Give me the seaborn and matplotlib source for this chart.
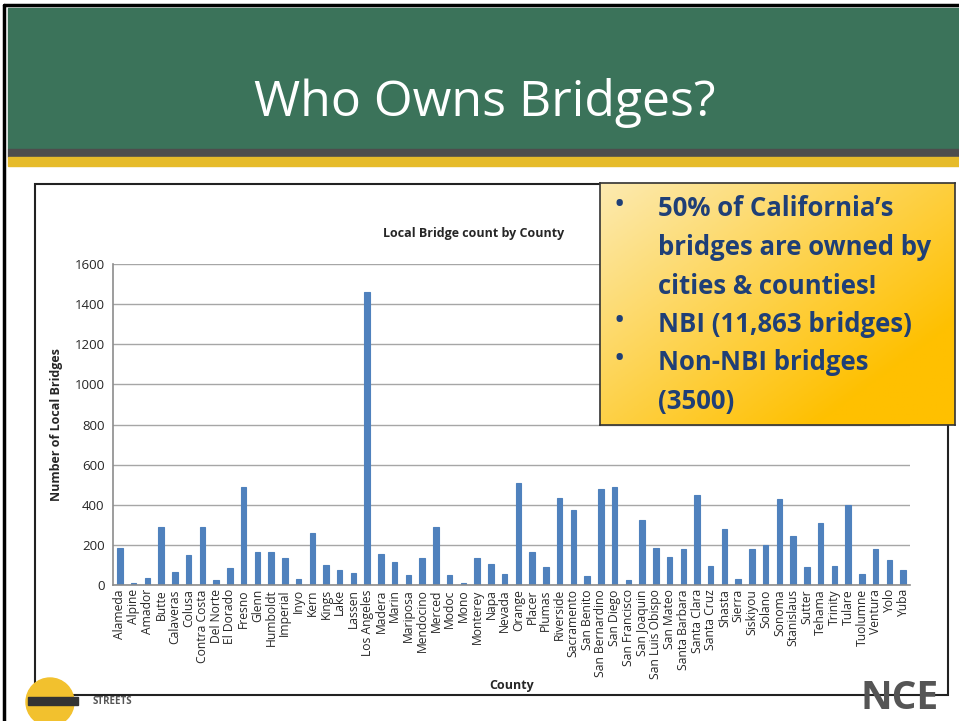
import numpy as np
import pandas as pd
import seaborn as sns
import matplotlib.pyplot as plt
from matplotlib.patches import Rectangle, Circle
from matplotlib.colors import LinearSegmentedColormap

counties = ["Alameda", "Alpine", "Amador", "Butte", "Calaveras", "Colusa", "Contra Costa",
            "Del Norte", "El Dorado", "Fresno", "Glenn", "Humboldt", "Imperial", "Inyo",
            "Kern", "Kings", "Lake", "Lassen", "Los Angeles", "Madera", "Marin", "Mariposa",
            "Mendocino", "Merced", "Modoc", "Mono", "Monterey", "Napa", "Nevada", "Orange",
            "Placer", "Plumas", "Riverside", "Sacramento", "San Benito", "San Bernardino",
            "San Diego", "San Francisco", "San Joaquin", "San Luis Obispo", "San Mateo",
            "Santa Barbara", "Santa Clara", "Santa Cruz", "Shasta", "Sierra", "Siskiyou",
            "Solano", "Sonoma", "Stanislaus", "Sutter", "Tehama", "Trinity", "Tulare",
            "Tuolumne", "Ventura", "Yolo", "Yuba"]
bridges = [184, 11, 37, 291, 66, 148, 287, 27, 85, 490, 166, 166, 136, 32,
           258, 98, 76, 61, 1460, 155, 114, 50, 136, 287, 50, 10, 133, 103, 55, 507,
           166, 88, 432, 374, 44, 478, 490, 24, 322, 183, 140,
           180, 450, 95, 280, 30, 179, 199, 430, 245, 89, 308, 94, 400,
           54, 178, 125, 74]
yticks = [0, 200, 400, 600, 800, 1000, 1200, 1400, 1600]
callout_lines = ["50% of California\u2019s", "bridges are owned by", "cities & counties!",
                 "NBI (11,863 bridges)", "Non-NBI bridges", "(3500)"]
bullet_rows = [0, 3, 4]

df = pd.DataFrame({"County": counties, "Bridges": bridges})

sns.set_style("white")
plt.rcParams["font.family"] = ["Open Sans", "DejaVu Sans"]

fig = plt.figure(figsize=(9.59, 7.21), dpi=100)
W, H = 959, 721

def fx(x):
    return x / W

def fy(y):
    return 1 - y / H

# slide background pieces
bg = fig.add_axes([0, 0, 1, 1], zorder=0)
bg.set_xlim(0, W)
bg.set_ylim(H, 0)
bg.axis("off")
bg.add_patch(Rectangle((0, 0), W, H, color="white"))
bg.add_patch(Rectangle((8, 8), W, 141, color="#3B735A"))
bg.add_patch(Rectangle((8, 149), W, 8, color="#4D4D4D"))
bg.add_patch(Rectangle((8, 157), W, 9, color="#E6BB2A"))
bg.plot([4, 4], [5, H], color="black", lw=2.5)
bg.plot([4, W], [5, 5], color="black", lw=2.5)
bg.text(485, 103, "Who Owns Bridges?", color="white", fontsize=36, ha="center", va="center")
# chart frame
bg.add_patch(Rectangle((35, 184), 913, 511, facecolor="white", edgecolor="#222222", lw=1.5))
# logos (rough)
bg.add_patch(Circle((50, 702), 24, color="#F2C12E", zorder=1))
bg.add_patch(Rectangle((28, 697), 50, 8, color="#333333", zorder=1))
bg.text(93, 702, "STREETS", fontsize=7, fontweight="bold", color="#555555", va="center")
bg.text(860, 718, "NCE", fontsize=28, fontweight="bold", color="#555555", va="bottom", ha="left")
bg.text(474, 233, "Local Bridge count by County", fontsize=9, fontweight="bold",
        ha="center", va="center")

# bar chart
ax = fig.add_axes([fx(113), fy(585), fx(910) - fx(113), fy(264) - fy(585)], zorder=2)
sns.barplot(data=df, x="County", y="Bridges", color="#4F81BD", width=0.4,
            saturation=1, edgecolor="#4F81BD", linewidth=0.8, ax=ax)
ax.set_ylim(0, 1600)
ax.set_yticks(yticks)
ax.set_xlim(-0.5, len(counties) - 0.5)
ax.yaxis.grid(True, color="#A6A6A6", lw=1)
ax.set_axisbelow(True)
for s in ["top", "right"]:
    ax.spines[s].set_visible(False)
for s in ["left", "bottom"]:
    ax.spines[s].set_color("#8C8C8C")
    ax.spines[s].set_linewidth(1.2)
ax.tick_params(axis="y", labelsize=9.5, length=0, pad=6)
ax.tick_params(axis="x", labelsize=8.7, length=0, pad=3, labelrotation=90)
ax.set_xticks(np.arange(-0.5, len(counties)), minor=True)
ax.tick_params(axis="x", which="minor", length=4, color="#8C8C8C", width=1)
ax.set_xlabel("County", fontsize=9, fontweight="bold", labelpad=0)
ax.set_ylabel("Number of Local Bridges", fontsize=9, fontweight="bold", labelpad=8)

# callout with gradient
cax = fig.add_axes([fx(600), fy(425), fx(955) - fx(600), fy(183) - fy(425)], zorder=3)
gx = np.linspace(0, 1, 200)
gy = np.linspace(0, 1, 100)
G = np.clip(0.65 * gx[None, :] + 0.6 * gy[:, None], 0, 1)
cmap = LinearSegmentedColormap.from_list("gold", ["#FCEAB0", "#FFC000"])
cax.imshow(G, cmap=cmap, aspect="auto", extent=[0, 355, 242, 0], origin="upper")
cax.set_xlim(0, 355)
cax.set_ylim(242, 0)
cax.set_xticks([])
cax.set_yticks([])
for s in cax.spines.values():
    s.set_color("#333333")
    s.set_linewidth(1.2)
for i, line in enumerate(callout_lines):
    yy = 26 + i * 38.5
    cax.text(58, yy, line, fontsize=18.5, fontweight="bold", color="#1F3F77", va="center")
    if i in bullet_rows:
        cax.text(14, yy - 3, "\u2022", fontsize=22, color="#1F3F77", va="center")

fig.savefig("out.png", dpi=100)
